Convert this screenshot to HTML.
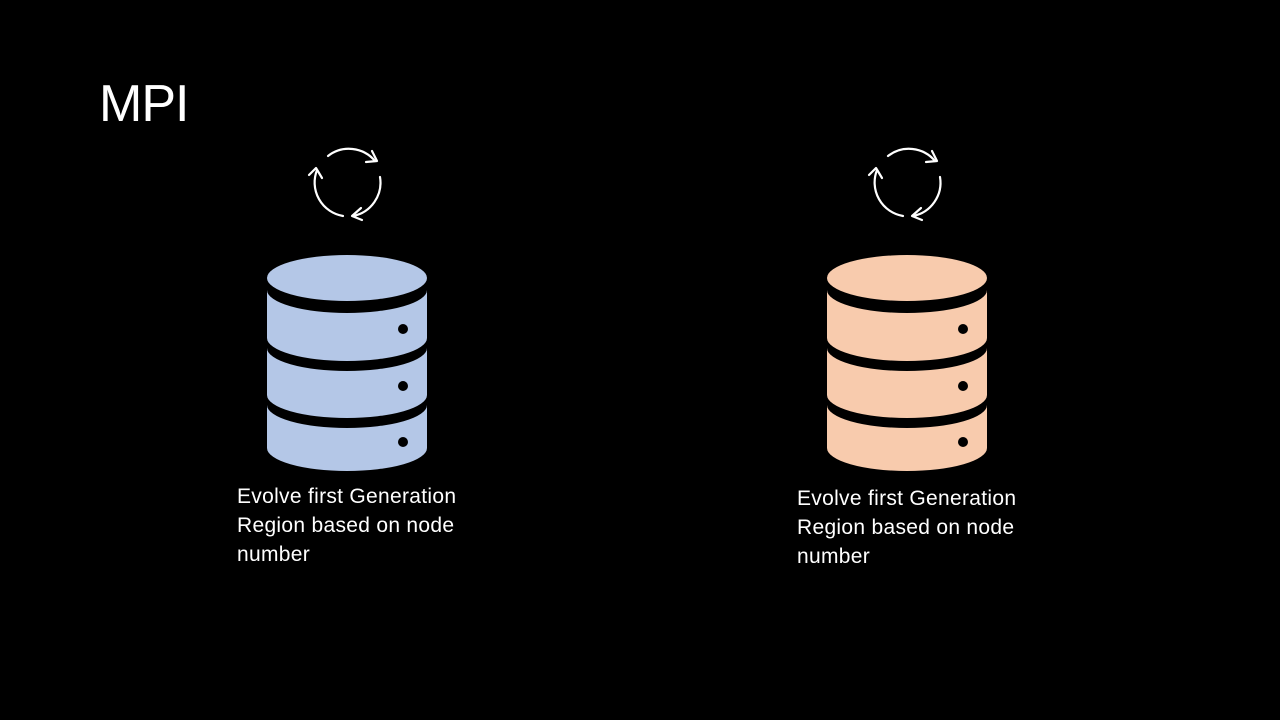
<!DOCTYPE html>
<html><head><meta charset="utf-8"><style>
body{margin:0;background:#000;width:1280px;height:720px;overflow:hidden;position:relative;font-family:"Liberation Sans",sans-serif;color:#fff}
.t{position:absolute;font-size:21px;line-height:29px;white-space:nowrap;letter-spacing:0.3px}
</style></head><body>
<div style="position:absolute;left:99px;top:74px;font-size:52px;font-weight:300;letter-spacing:-1px">MPI</div>
<svg width="1280" height="720" style="position:absolute;left:0;top:0">
<defs>
<g id="cyc" fill="none" stroke="#fff" stroke-width="2.2" stroke-linecap="round" stroke-linejoin="round">
<path d="M-20,-27 A34,34 0 0 1 27,-22"/><path d="M24,-32 L29,-22 L18,-21"/>
<path d="M32,-6 A34,34 0 0 1 5,33"/><path d="M14,37 L4,33 L13,25"/>
<path d="M-5,33 A34,34 0 0 1 -31,-13"/><path d="M-39,-8 L-32,-15 L-26,-5"/>
</g>
<g id="db">
<ellipse cx="80" cy="22" rx="80" ry="23"/>
<path d="M0,34 A80,23 0 0 0 160,34 L160,82 A80,23 0 0 1 0,82 Z"/>
<path d="M0,92 A80,23 0 0 0 160,92 L160,139 A80,23 0 0 1 0,139 Z"/>
<path d="M0,149 A80,23 0 0 0 160,149 L160,192 A80,23 0 0 1 0,192 Z"/>
<circle cx="136" cy="73" r="5" fill="#000"/><circle cx="136" cy="130" r="5" fill="#000"/><circle cx="136" cy="186" r="5" fill="#000"/>
</g>
</defs>
<use href="#cyc" x="348" y="183"/>
<use href="#cyc" x="908" y="183"/>
<use href="#db" x="267" y="256" fill="#b4c7e7"/>
<use href="#db" x="827" y="256" fill="#f8cbad"/>
</svg>
<div class="t" style="left:237px;top:482px">Evolve first Generation<br>Region based on node<br>number</div>
<div class="t" style="left:797px;top:484px">Evolve first Generation<br>Region based on node<br>number</div>
</body></html>
